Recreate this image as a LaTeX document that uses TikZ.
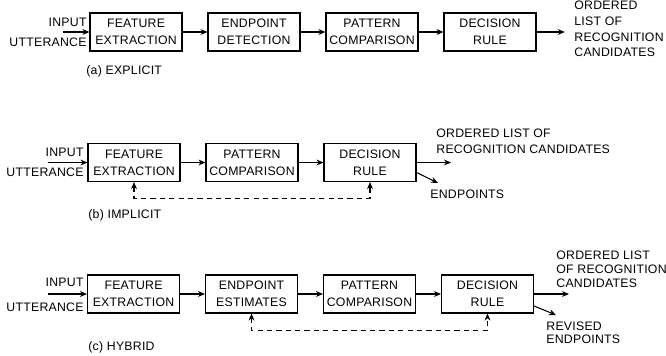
\documentclass[tikz,border=0pt]{standalone}
\usepackage{fontspec}
\setmainfont{Liberation Sans}[LetterSpace=2.0]
\usepackage{tikz}
\usetikzlibrary{arrows,arrows.meta}
\usetikzlibrary{positioning}
\tikzstyle{block} = [rectangle, draw=black, line width=0.9pt, minimum width=2.76cm, minimum height=1.14cm, inner sep=1pt, text centered, align=center, font=\fontsize{10.5}{14.5}\selectfont]
\tikzstyle{txt} = [inner sep=1pt, align=left, font=\fontsize{10.5}{12}\selectfont]
\tikzstyle{flow} = [line width=0.9pt,->,>={Stealth[length=6pt,width=5pt]}]
\tikzstyle{feedback} = [line width=0.9pt,<->,>={Stealth[length=6pt,width=5pt]}, dash pattern=on 4.5pt off 3.5pt]

\begin{document}
\begin{tikzpicture}[x=0.03cm, y=-0.03cm, node distance=3.54cm]
\useasboundingbox (0,0) rectangle (666,355);
% (a) explicit
\node (a1) [block] at (136,32) {FEATURE\\EXTRACTION};
\node (a2) [block, right of = a1] {ENDPOINT\\DETECTION};
\node (a3) [block, right of = a2] {PATTERN\\COMPARISON};
\node (a4) [block, right of = a3] {DECISION\\RULE};
\coordinate (ain) at (63,32);
\node (ainput) [txt, anchor=base east] at (88,26) {INPUT};
\node (autt) [txt, anchor=base east] at (88,46) {UTTERANCE};
\node (acap) [txt, anchor=west] at (85,71) {(a) EXPLICIT};
\node (aout) [txt, anchor=west, font=\fontsize{10.5}{13.5}\selectfont] at (573,29) {ORDERED\\LIST OF\\RECOGNITION\\CANDIDATES};
\draw [flow] (ain) -- (a1);
\draw [flow] (a1) -- (a2);
\draw [flow] (a2) -- (a3);
\draw [flow] (a3) -- (a4);
\draw [flow, shorten >=7pt] (a4) -- (a4 -| aout.west);

% (b) implicit
\node (b1) [block] at (134,162.5) {FEATURE\\EXTRACTION};
\node (b2) [block, right of = b1] {PATTERN\\COMPARISON};
\node (b3) [block, right of = b2] {DECISION\\RULE};
\coordinate (bin) at (48,162.5);
\coordinate (bout) at (451,162.5);
\coordinate (bend) at (438,183);
\node (binput) [txt, anchor=base east] at (85,156) {INPUT};
\node (butt) [txt, anchor=base east] at (85,176) {UTTERANCE};
\node (bcap) [txt, anchor=west] at (87,215) {(b) IMPLICIT};
\node (blist) [txt, anchor=west, font=\fontsize{10.5}{14}\selectfont] at (435,141) {ORDERED LIST OF\\RECOGNITION CANDIDATES};
\node (bpts) [txt, anchor=west] at (429,194) {ENDPOINTS};
\draw [flow] (bin) -- (b1);
\draw [flow] (b1) -- (b2);
\draw [flow] (b2) -- (b3);
\draw [flow] (b3) -- (bout);
\draw [flow] (b3.east) ++(0,10) -- (bend);
\draw [feedback] (b1.south) -- ++(0,16) -| (b3.south);

% (c) hybrid
\node (c1) [block] at (133.5,294) {FEATURE\\EXTRACTION};
\node (c2) [block, right of = c1] {ENDPOINT\\ESTIMATES};
\node (c3) [block, right of = c2] {PATTERN\\COMPARISON};
\node (c4) [block, right of = c3] {DECISION\\RULE};
\coordinate (cin) at (48,294);
\coordinate (cout) at (569,294);
\coordinate (cend) at (556,315);
\node (cinput) [txt, anchor=base east] at (85,286) {INPUT};
\node (cutt) [txt, anchor=base east] at (85,311) {UTTERANCE};
\node (ccap) [txt, anchor=west] at (87,347) {(c) HYBRID};
\node (clist) [txt, anchor=west, font=\fontsize{10.5}{12}\selectfont] at (555,269) {ORDERED LIST\\OF RECOGNITION\\CANDIDATES};
\node (crev) [txt, anchor=west, font=\fontsize{10.5}{11}\selectfont] at (545,333) {REVISED\\ENDPOINTS};
\draw [flow] (cin) -- (c1);
\draw [flow] (c1) -- (c2);
\draw [flow] (c2) -- (c3);
\draw [flow] (c3) -- (c4);
\draw [flow] (c4) -- (cout);
\draw [flow] (c4.east) ++(0,12) -- (cend);
\draw [feedback] (c2.south) -- ++(0,17) -| (c4.south);
\end{tikzpicture}
\end{document}
